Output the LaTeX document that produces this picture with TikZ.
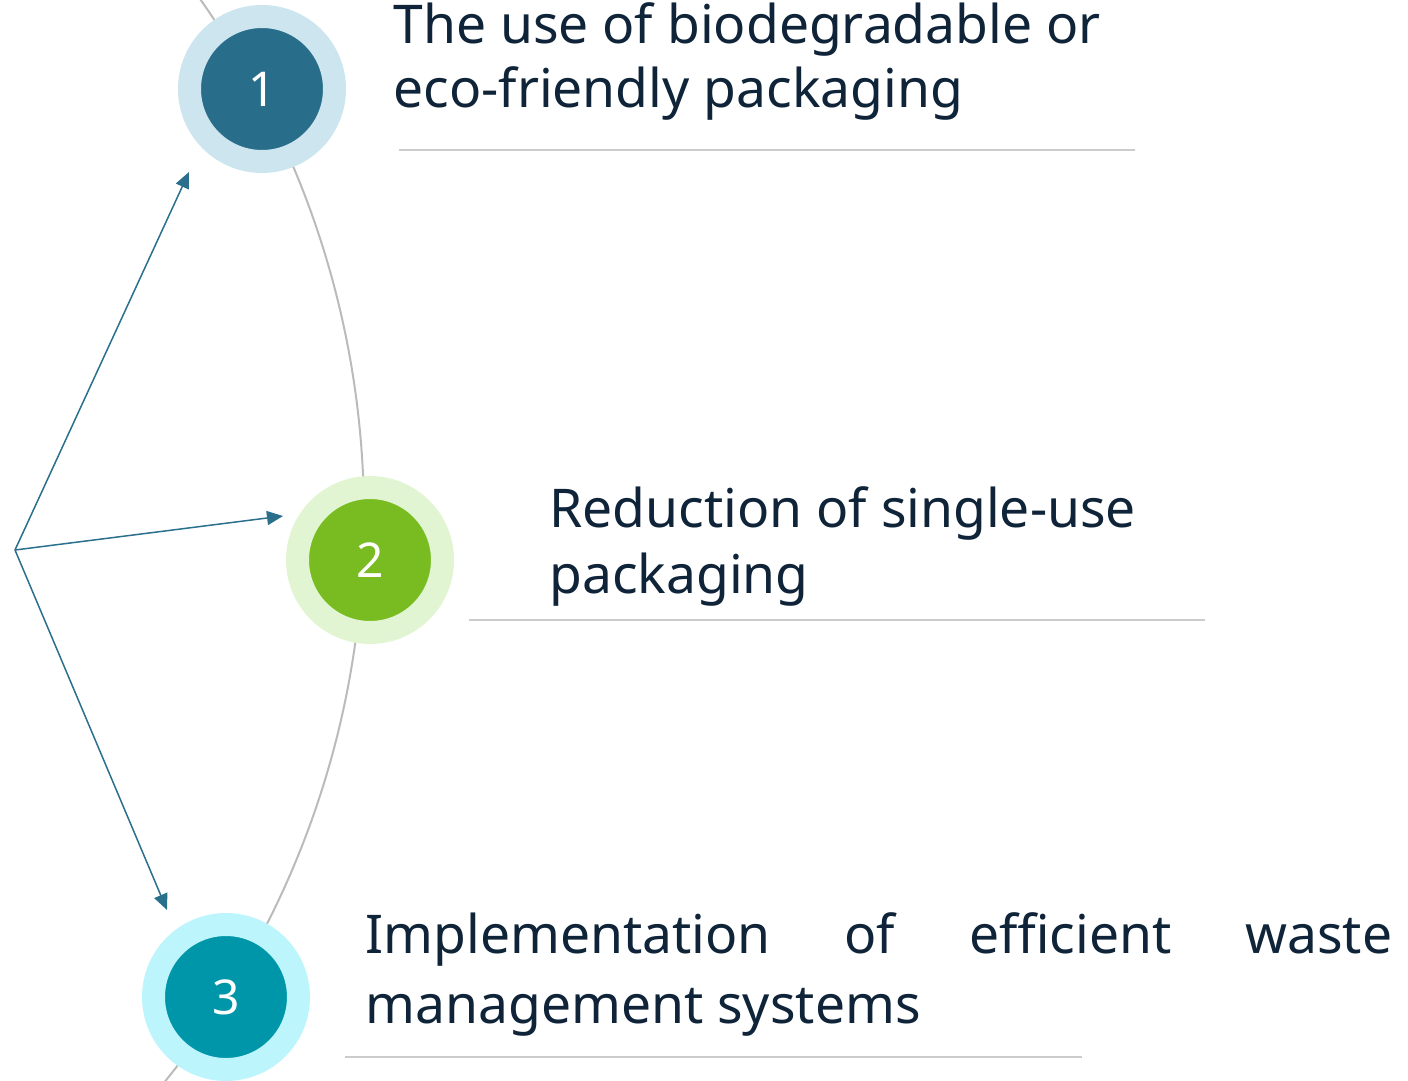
\documentclass[tikz,border=0pt]{standalone}
\usepackage{fontspec}
\setmainfont{Noto Sans}
\usetikzlibrary{arrows.meta}
\definecolor{ink}{HTML}{0F2438}
\definecolor{ring1}{HTML}{CDE5EF}
\definecolor{core1}{HTML}{286E8A}
\definecolor{ring2}{HTML}{E2F5D3}
\definecolor{core2}{HTML}{78BC22}
\definecolor{ring3}{HTML}{BDF5FC}
\definecolor{core3}{HTML}{0096A9}
\definecolor{arcgray}{HTML}{BBBBBB}
\definecolor{rulegray}{HTML}{CCCCCC}
\definecolor{arrowc}{HTML}{2A6F8C}
\tikzset{
    CC/.style ={circle, minimum size=72.5pt, inner sep=0pt, line width=11.5pt, text=white, font=\fontsize{24}{28}\selectfont},
    CC1/.style ={CC, draw=ring1, fill=core1},
    CC2/.style ={CC, draw=ring2, fill=core2},
    CC3/.style ={CC, draw=ring3, fill=core3},
    TX/.style ={anchor=north west, inner sep=0pt, align=left, text=ink, font=\fontsize{26.7}{#1}\selectfont},
    AR/.style ={draw=arrowc, line width=0.75pt, -{Triangle[length=8pt,width=7pt]}},
    HL/.style ={draw=rulegray, line width=0.75pt}}
\begin{document}
\begin{tikzpicture}[x=0.5pt,y=-0.5pt]
    \useasboundingbox (0,0) rectangle (1408,1081);
    % big arc behind the circles
    \begin{scope}
        \clip (0,0) rectangle (1408,1081);
        \draw[arcgray, line width=1pt] (-536,517) circle[radius=900];
    \end{scope}
    \node[CC1] (1) at (262,89) {1};
    \node[CC2] (2) at (370,560) {2};
    \node[CC3] (3) at (226,997) {3};
    \coordinate (s) at (15,550);
    \coordinate (t1) at (189,172);
    \coordinate (t2) at (283,516);
    \coordinate (t3) at (167,910);
    \draw[AR] (s) -- (t1);
    \draw[AR] (s) -- (t2);
    \draw[AR] (s) -- (t3);
    \node[TX=32] (4) at (393,2.5) {The use of biodegradable or\\eco-friendly packaging};
    \node[TX=33] (5) at (549,486.5) {Reduction of single-use\\packaging};
    \node[TX=35, text width=513.5pt, align=justify] (6) at (365,912.5) {Implementation of efficient waste\linebreak management systems};
    \draw[HL] (399,150) -- (1135,150);
    \draw[HL] (469,620) -- (1205,620);
    \draw[HL] (345,1057) -- (1082,1057);
\end{tikzpicture}
\end{document}
